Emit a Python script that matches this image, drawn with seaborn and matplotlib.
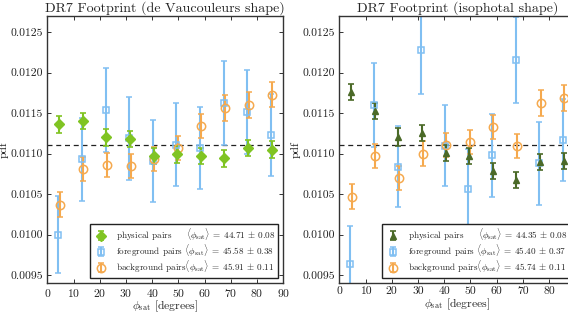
# DR7 footprint: pdf of phi_sat for physical, foreground and background pairs

import numpy as np
import seaborn as sns
import matplotlib.pyplot as plt
from matplotlib.ticker import MultipleLocator, FormatStrFormatter

sns.set_style("ticks")
plt.rcParams['font.family'] = ['cmr10', 'DejaVu Serif']
plt.rcParams['mathtext.fontset'] = 'cm'
plt.rcParams['axes.formatter.use_mathtext'] = True
plt.rcParams['font.size'] = 8.4

# bin centres (degrees)
phi = np.array([4.5, 13.5, 22.5, 31.5, 40.5, 49.5, 58.5, 67.5, 76.5, 85.5])

# de Vaucouleurs shape
dev_phys = [0.01136, 0.01140, 0.01120, 0.01118, 0.01097, 0.01099, 0.01097, 0.01094, 0.01107, 0.01105]
dev_phys_err = [0.00010, 0.00010, 0.00010, 0.00010, 0.00010, 0.00010, 0.00010, 0.00010, 0.00010, 0.00010]
dev_fore = [0.01000, 0.01093, 0.01154, 0.01119, 0.01091, 0.01111, 0.01107, 0.01163, 0.01151, 0.01123]
dev_fore_err = [0.00048, 0.00051, 0.00052, 0.00051, 0.00051, 0.00051, 0.00051, 0.00052, 0.00052, 0.00051]
dev_back = [0.01037, 0.01081, 0.01086, 0.01085, 0.01093, 0.01107, 0.01134, 0.01156, 0.01160, 0.01173]
dev_back_err = [0.00015, 0.00015, 0.00015, 0.00015, 0.00015, 0.00015, 0.00015, 0.00016, 0.00016, 0.00016]

# isophotal shape
iso_phys = [0.01176, 0.01153, 0.01121, 0.01125, 0.01101, 0.01097, 0.01079, 0.01067, 0.01090, 0.01091]
iso_phys_err = [0.00010, 0.00010, 0.00011, 0.00010, 0.00010, 0.00010, 0.00010, 0.00010, 0.00010, 0.00010]
iso_fore = [0.00964, 0.01160, 0.01084, 0.01228, 0.01110, 0.01056, 0.01098, 0.01216, 0.01088, 0.01117]
iso_fore_err = [0.00047, 0.00052, 0.00050, 0.00054, 0.00050, 0.00050, 0.00051, 0.00053, 0.00051, 0.00051]
iso_back = [0.01047, 0.01097, 0.01070, 0.01100, 0.01111, 0.01114, 0.01133, 0.01109, 0.01162, 0.01169]
iso_back_err = [0.00015, 0.00015, 0.00015, 0.00015, 0.00015, 0.00015, 0.00015, 0.00015, 0.00016, 0.00016]

dev_means = ["44.71 \\pm 0.08", "45.58 \\pm 0.38", "45.91 \\pm 0.11"]
iso_means = ["44.35 \\pm 0.08", "45.40 \\pm 0.37", "45.74 \\pm 0.11"]
names = ["physical pairs     ", "foreground pairs ", "background pairs"]

blue = '#80bff2'
orange = '#f5a94e'

fig = plt.figure(figsize=(5.68, 3.15), dpi=100)
ax1 = fig.add_axes([0.0833, 0.1025, 0.4155, 0.8467])
ax2 = fig.add_axes([0.5974, 0.1025, 0.4155, 0.8467])


def panel(ax, phys, phys_err, fore, fore_err, back, back_err, means, pcol, pmark, title):
    hf = ax.errorbar(phi - 0.25, fore, yerr=fore_err, fmt='s', color=blue, mfc='none',
                     mec=blue, ms=5, mew=1.1, elinewidth=1.5, capsize=2, capthick=1.2)
    hb = ax.errorbar(phi + 0.25, back, yerr=back_err, fmt='o', color=orange, mfc='none',
                     mec=orange, ms=6, mew=1.1, elinewidth=1.5, capsize=2, capthick=1.2)
    hp = ax.errorbar(phi, phys, yerr=phys_err, fmt=pmark, color=pcol, ms=5,
                     elinewidth=1.5, capsize=2, capthick=1.2)
    ax.axhline(1 / 90, color='#222222', ls=(0, (4, 3)), lw=0.9, zorder=0)
    ax.set_xlim(0, 90)
    ax.set_ylim(0.009405, 0.0127)
    ax.xaxis.set_major_locator(MultipleLocator(10))
    ax.yaxis.set_major_locator(MultipleLocator(0.0005))
    ax.yaxis.set_major_formatter(FormatStrFormatter('%.4f'))
    ax.tick_params(direction='in', top=True, right=True, length=3, width=0.7,
                   colors='#333333', labelcolor='#222222', pad=3)
    for s in ax.spines.values():
        s.set_color('#333333')
        s.set_linewidth(1.0)
    ax.set_xlabel(r'$\phi_{\mathrm{sat}}$ [degrees]', labelpad=0)
    ax.set_ylabel('pdf', labelpad=1)
    ax.set_title(title, pad=3)
    labels = [n + r'$\langle\phi_{\mathrm{sat}}\rangle\;=\;' + m.replace('\\pm', '\\,\\pm\\,') + '$'
              for n, m in zip(names, means)]
    leg = ax.legend([hp, hf, hb], labels, loc='lower right', fancybox=False, framealpha=1,
                    edgecolor='#222222', fontsize=6.6, handlelength=1.6, handletextpad=0.9,
                    labelspacing=0.0, borderpad=0.3, borderaxespad=0.55)
    leg.get_frame().set_linewidth(1.0)


panel(ax1, dev_phys, dev_phys_err, dev_fore, dev_fore_err, dev_back, dev_back_err,
      dev_means, '#80c423', 'D', 'DR7 Footprint (de Vaucouleurs shape)')
panel(ax2, iso_phys, iso_phys_err, iso_fore, iso_fore_err, iso_back, iso_back_err,
      iso_means, '#4b6a28', '^', 'DR7 Footprint (isophotal shape)')

# the right panel runs past the edge of the picture; its last label is not shown
ax2.set_xticks(range(0, 91, 10), labels=[str(v) for v in range(0, 90, 10)] + [''])

plt.savefig("out.png", dpi=100)
